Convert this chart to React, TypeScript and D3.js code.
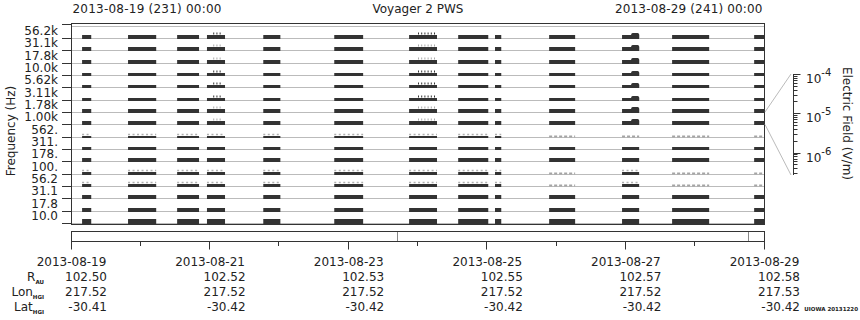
import React from "react";
import * as d3 from "d3";

const W = 860;
const H = 320;
const FONT = "'DejaVu Sans', Verdana, sans-serif";

// ---- data ----
const channels = ["56.2k", "31.1k", "17.8k", "10.0k", "5.62k", "3.11k", "1.78k", "1.00k", "562.", "311.", "178.", "100.", "56.2", "31.1", "17.8", "10.0"];
// relative amplitude of each channel's spectral trace (fraction of a row)
const channelAmplitude = [0.32, 0.32, 0.32, 0.24, 0.24, 0.24, 0.32, 0.32, 0.16, 0.24, 0.32, 0.24, 0.24, 0.32, 0.32, 0.4];
// channels with weak noisy bursts above the trace
const noisyChannels = [8, 11, 12];

const segStart = ["2013-08-19T03:40", "2013-08-19T19:35", "2013-08-20T12:35", "2013-08-20T22:55", "2013-08-21T18:25", "2013-08-22T19:00", "2013-08-23T20:55", "2013-08-24T13:55", "2013-08-25T02:40", "2013-08-25T21:25", "2013-08-26T22:40", "2013-08-27T16:00", "2013-08-28T20:25"];
const segEnd = ["2013-08-19T06:50", "2013-08-20T05:20", "2013-08-20T20:10", "2013-08-21T05:10", "2013-08-22T00:20", "2013-08-23T05:00", "2013-08-24T06:35", "2013-08-25T00:20", "2013-08-25T04:50", "2013-08-26T06:25", "2013-08-27T04:35", "2013-08-28T04:50", "2013-08-29T00:00"];

// segments where a channel is only weakly present: [channel, segment]
const fadedCells: [number, number][] = [[8, 9], [8, 10], [8, 11], [8, 12], [11, 9], [11, 11], [11, 12], [12, 9], [12, 11], [12, 12]];

// impulsive spikes in the upper channels
const spikeStart = ["2013-08-21T01:05", "2013-08-24T00:00"];
const spikeEnd = ["2013-08-21T04:20", "2013-08-24T06:00"];
const spikeDarkChannels = [0, 3, 4, 5];
const spikeChannels = [0, 1, 2, 3, 4, 5, 6, 7];

// enhanced burst
const burstStart = ["2013-08-27T01:50"];
const burstEnd = ["2013-08-27T04:35"];
const burstBoost = [0.16];

const eventTimes = ["2013-08-23T16:45", "2013-08-28T18:15"];

const tickDates = ["2013-08-19", "2013-08-21", "2013-08-23", "2013-08-25", "2013-08-27", "2013-08-29"];
const minorDates = ["2013-08-20", "2013-08-22", "2013-08-24", "2013-08-26", "2013-08-28"];
const rAU = ["102.50", "102.52", "102.53", "102.55", "102.57", "102.58"];
const lonHGI = ["217.52", "217.52", "217.52", "217.52", "217.52", "217.53"];
const latHGI = ["-30.41", "-30.42", "-30.42", "-30.42", "-30.42", "-30.42"];

const cbDomain = [1e-4, 2.7e-7];
const cbMajor = [-4, -5, -6];

const parseT = d3.utcParse("%Y-%m-%dT%H:%M");
const parseD = d3.utcParse("%Y-%m-%d");

export default function App() {
  const left = 71.5, right = 764.5, top = 23.5, bottom = 224.5;
  const rowsTop = 26, rowsBottom = 223.6;
  const x = d3.scaleTime()
    .domain([parseD("2013-08-19")!, parseD("2013-08-29")!])
    .range([left, right]);
  const y = d3.scaleBand<string>().domain(channels).range([rowsTop, rowsBottom]).padding(0);
  const rowH = y.bandwidth();
  const amp = d3.scaleLinear().domain([0, 1]).range([0, rowH]);
  const base = (i: number) => Math.floor(y(channels[i])! + rowH); // pixel row of baseline
  const cb = d3.scaleLog().domain(cbDomain).range([74, 175]);
  const cbX = 793.5;

  const minorCb: number[] = [];
  for (let e = -7; e <= -5; e++) {
    for (let m = 2; m <= 9; m++) {
      const v = m * Math.pow(10, e);
      if (v <= cbDomain[0] && v >= cbDomain[1]) minorCb.push(v);
    }
  }

  const fadedSet = new Set(fadedCells.map(([c, s]) => `${c}-${s}`));
  const textColor = "#222";
  const dark = "#333";

  return (
    <svg width={W} height={H} style={{ position: "absolute", left: 0, top: 0, background: "#fff" }} fontFamily={FONT}>
      <rect x={0} y={0} width={W} height={H} fill="#fff" />
      {/* header */}
      <text x={72.5} y={13.3} fontSize={12} fill={textColor} textLength={149} lengthAdjust="spacing">2013-08-19 (231) 00:00</text>
      <text x={(left + right) / 2} y={13.3} fontSize={12} fill={textColor} textAnchor="middle">Voyager 2 PWS</text>
      <text x={615} y={13.3} fontSize={12} fill={textColor} textLength={147.5} lengthAdjust="spacing">2013-08-29 (241) 00:00</text>

      {/* row baselines */}
      <line x1={left} x2={right} y1={rowsTop + 0.5} y2={rowsTop + 0.5} stroke="#bbb" />
      {channels.map((c, i) => (
        <line key={c} x1={left} x2={right} y1={base(i) + 0.5} y2={base(i) + 0.5} stroke="#bbb" />
      ))}

      {/* spectral traces */}
      {channels.map((c, i) =>
        segStart.map((s, j) => {
          const x0 = x(parseT(s)!);
          const x1 = x(parseT(segEnd[j])!);
          const h = Math.round(amp(channelAmplitude[i]));
          const b = base(i);
          if (fadedSet.has(`${i}-${j}`)) {
            return (
              <line key={`${c}-${j}`} x1={x0} x2={x1} y1={b - 0.5} y2={b - 0.5} stroke="#a5a5a5" strokeWidth={2} strokeDasharray="3,2" />
            );
          }
          return (
            <g key={`${c}-${j}`}>
              <rect x={x0} y={b - h + 1} width={x1 - x0} height={h} fill={dark} />
              {noisyChannels.includes(i) && (
                <line x1={x0} x2={x1} y1={b - h - 0.5} y2={b - h - 0.5} stroke="#b0b0b0" strokeWidth={1.5} strokeDasharray="2,2.5" />
              )}
            </g>
          );
        })
      )}

      {/* bursts */}
      {spikeChannels.map((i) =>
        burstStart.map((s, k) => {
          const x0 = x(parseT(s)!);
          const x1 = x(parseT(burstEnd[k])!);
          const h = Math.round(amp(channelAmplitude[i] + burstBoost[k]));
          const b = base(i);
          return <rect key={`b${i}-${k}`} x={x0} y={b - h + 1} width={x1 - x0} height={h} fill={dark} rx={1.5} />;
        })
      )}
      {spikeChannels.map((i) =>
        spikeStart.map((s, k) => {
          const x0 = x(parseT(s)!);
          const x1 = x(parseT(spikeEnd[k])!);
          const h = Math.round(amp(channelAmplitude[i]));
          const b = base(i);
          return (
            <line key={`s${i}-${k}`} x1={x0} x2={x1} y1={b - h - 0.5} y2={b - h - 0.5}
              stroke={spikeDarkChannels.includes(i) ? dark : "#aaa"} strokeWidth={2} strokeDasharray="1,2.2" />
          );
        })
      )}

      {/* frame */}
      <rect x={left} y={top} width={right - left} height={bottom - top} fill="none" stroke={dark} />

      {/* y axis ticks & labels */}
      <line x1={62} x2={left} y1={24.5} y2={24.5} stroke={dark} />
      {channels.map((c, i) => (
        <g key={`t${c}`}>
          <line x1={62} x2={left} y1={base(i) + 0.5} y2={base(i) + 0.5} stroke={dark} />
          <text x={58} y={base(i) - 3} fontSize={12} fill={textColor} textAnchor="end">{c}</text>
        </g>
      ))}
      <text transform={`translate(11,131) rotate(-90)`} fontSize={12} fill={textColor} textAnchor="middle" dominantBaseline="central">Frequency (Hz)</text>

      {/* colour bar / amplitude scale */}
      <line x1={765} y1={112} x2={791} y2={74} stroke="#bbb" />
      <line x1={765} y1={124.5} x2={791} y2={175} stroke="#bbb" />
      <line x1={cbX} x2={cbX} y1={74} y2={175} stroke={dark} />
      {minorCb.map((v) => (
        <line key={`m${v}`} x1={cbX} x2={cbX + 4} y1={Math.round(cb(v)) + 0.5} y2={Math.round(cb(v)) + 0.5} stroke={dark} />
      ))}
      {cbMajor.map((e) => {
        const yy = Math.round(cb(Math.pow(10, e)));
        return (
          <g key={`M${e}`}>
            <line x1={cbX} x2={cbX + 7} y1={yy + 0.5} y2={yy + 0.5} stroke={dark} />
            <text x={806} y={yy + 8.5} fontSize={12} fill={textColor}>
              10<tspan fontSize={10} dy={-7}>{e}</tspan>
            </text>
          </g>
        );
      })}
      <text transform={`translate(846.5,123.5) rotate(90)`} fontSize={12} fill={textColor} textAnchor="middle" dominantBaseline="central">Electric Field (V/m)</text>

      {/* lower panel */}
      <rect x={left} y={231.5} width={right - left} height={10} fill="none" stroke={dark} />
      {eventTimes.map((t) => {
        const xx = Math.round(x(parseT(t)!)) + 0.5;
        return <line key={t} x1={xx} x2={xx} y1={232} y2={241} stroke="#888" />;
      })}
      {tickDates.map((d) => {
        const xx = Math.round(x(parseD(d)!)) - 0.5;
        return <line key={`tk${d}`} x1={xx} x2={xx} y1={241.5} y2={249.5} stroke={dark} />;
      })}
      {minorDates.map((d) => {
        const xx = Math.round(x(parseD(d)!)) - 0.5;
        return <line key={`mk${d}`} x1={xx} x2={xx} y1={241.5} y2={246} stroke={dark} />;
      })}
      {tickDates.map((d, k) => {
        const xx = x(parseD(d)!);
        return (
          <g key={`lab${d}`} fontSize={12} fill={textColor}>
            <text x={xx} y={265.7} textAnchor="middle">{d}</text>
            <text x={xx + 35.5} y={280.7} textAnchor="end">{rAU[k]}</text>
            <text x={xx + 35.5} y={295.7} textAnchor="end">{lonHGI[k]}</text>
            <text x={xx + 35.5} y={310.7} textAnchor="end">{latHGI[k]}</text>
          </g>
        );
      })}
      <g fontSize={12} fill={textColor}>
        <text x={44} y={280.7} textAnchor="end">R<tspan fontSize={5.5} fontWeight="bold" dy={3}>AU</tspan></text>
        <text x={44} y={295.7} textAnchor="end">Lon<tspan fontSize={5.5} fontWeight="bold" dy={3}>HGI</tspan></text>
        <text x={44} y={310.7} textAnchor="end">Lat<tspan fontSize={5.5} fontWeight="bold" dy={3}>HGI</tspan></text>
      </g>
      <text x={858} y={310.7} fontSize={5.5} fontWeight="bold" fill={textColor} textAnchor="end">UIOWA 20131220</text>
    </svg>
  );
}
